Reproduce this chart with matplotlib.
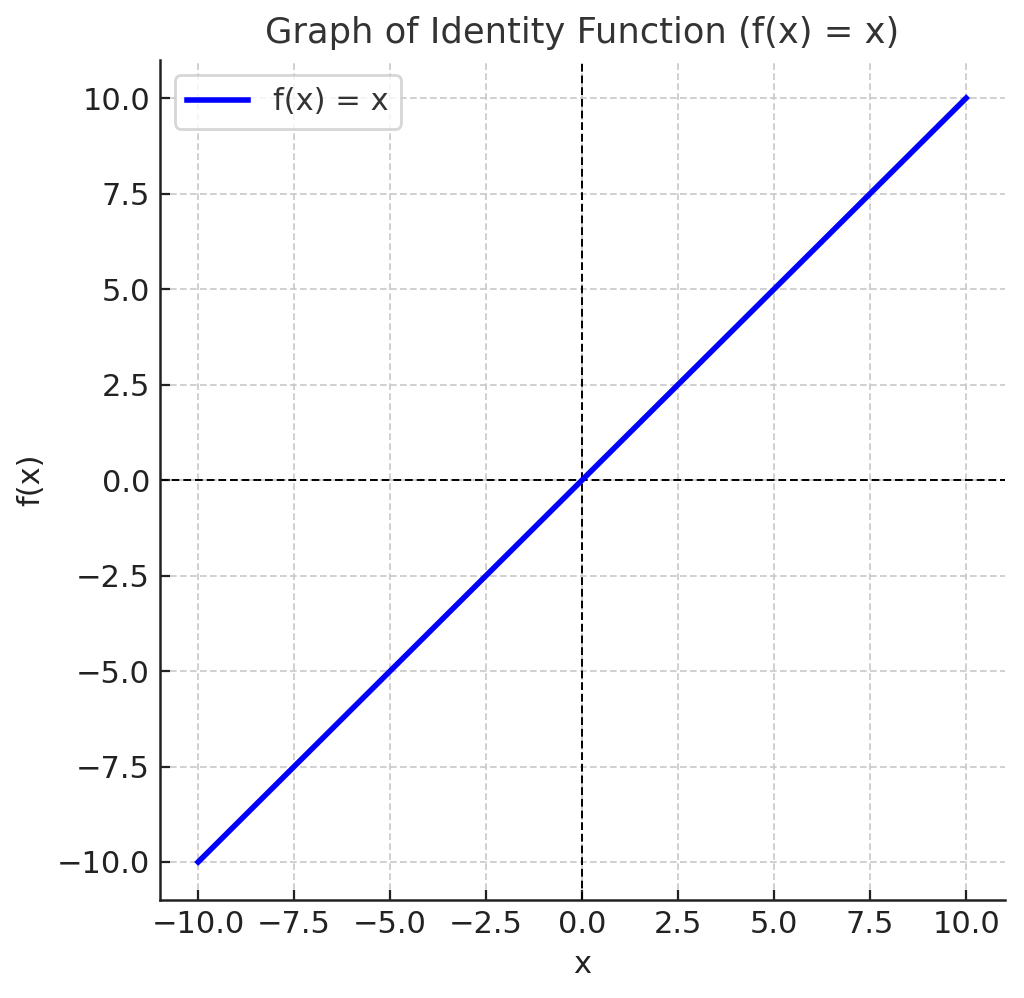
import numpy as np
import matplotlib
matplotlib.use("Agg")
import matplotlib.pyplot as plt

# data
x_values = [-10.0, 10.0]
y_values = [-10.0, 10.0]
tick_values = [-10.0, -7.5, -5.0, -2.5, 0.0, 2.5, 5.0, 7.5, 10.0]
title = "Graph of Identity Function (f(x) = x)"
series_label = "f(x) = x"

fig = plt.figure(figsize=(5.12, 4.99), dpi=200)
ax = fig.add_axes([0.156, 0.098, 0.825, 0.842])

ax.plot(x_values, y_values, color="blue", lw=2.0, label=series_label, zorder=3)
ax.axhline(0, color="black", lw=0.7, ls="--", dashes=(4, 2), zorder=2)
ax.axvline(0, color="black", lw=0.7, ls="--", dashes=(4, 2), zorder=2)

ax.set_xlim(-11, 11)
ax.set_ylim(-11, 11)
ax.set_xticks(tick_values)
ax.set_yticks(tick_values)
ax.grid(True, ls="--", color="#c8c8c8", lw=0.6, dashes=(4, 2))
ax.set_axisbelow(True)

for s in ["top", "right"]:
    ax.spines[s].set_visible(False)
for s in ["left", "bottom"]:
    ax.spines[s].set_linewidth(0.9)
    ax.spines[s].set_color("#222222")

ax.tick_params(labelsize=11, colors="#222222", length=3.5, width=0.8, direction="in")
ax.set_title(title, fontsize=12.7, color="#333333", pad=6)
ax.set_xlabel("x", fontsize=11, color="#222222", labelpad=4)
ax.set_ylabel("f(x)", fontsize=11, color="#222222", labelpad=4)

leg = ax.legend(loc="upper left", fontsize=11, frameon=True, fancybox=True)
leg.get_frame().set_edgecolor("#cccccc")
for t in leg.get_texts():
    t.set_color("#333333")

fig.savefig("out.png", dpi=200)
